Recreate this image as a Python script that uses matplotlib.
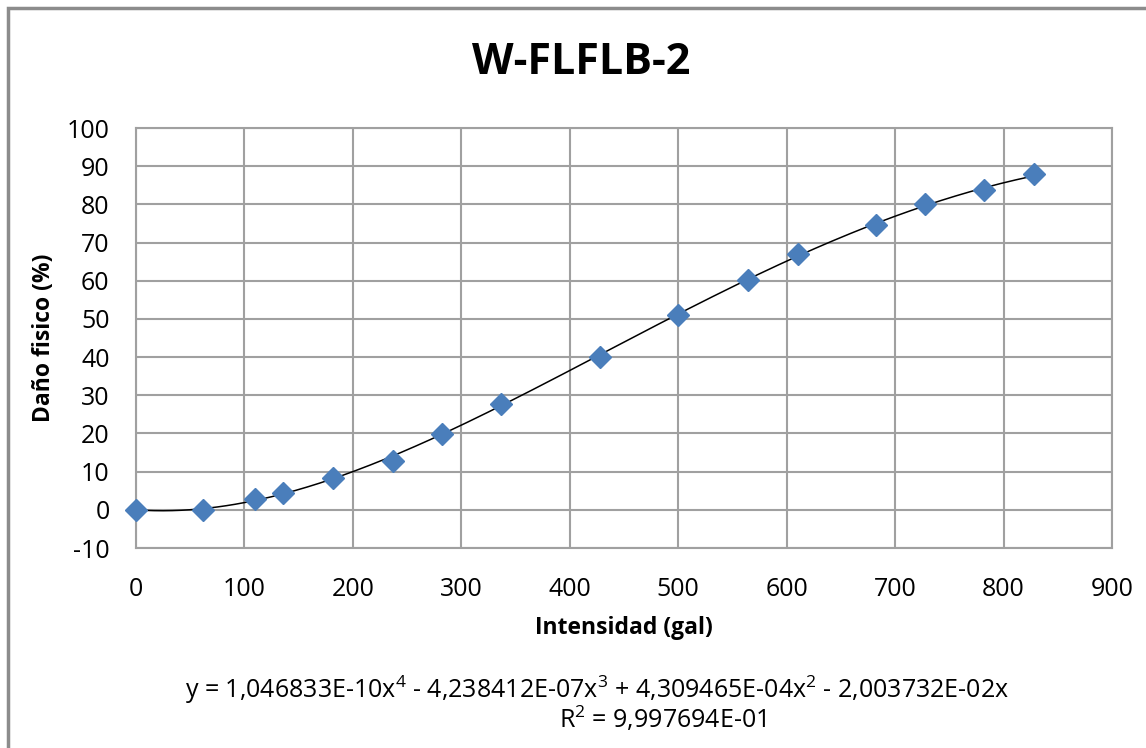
import numpy as np
import matplotlib
matplotlib.use('Agg')
from matplotlib import pyplot as plt
from matplotlib.patches import Rectangle

plt.rcParams['font.family'] = ['Open Sans', 'DejaVu Sans']
plt.rcParams['axes.unicode_minus'] = False
plt.rcParams['mathtext.fontset'] = 'custom'
plt.rcParams['mathtext.rm'] = 'Open Sans'
plt.rcParams['mathtext.it'] = 'Open Sans'

# data points
intensidad = [0, 62, 110, 136, 182, 237, 282, 337, 428, 500, 564, 610, 682, 728, 782, 828]
dano = [0, 0, 2.8, 4.3, 8.4, 12.8, 19.9, 27.6, 40, 51, 60.2, 67, 74.6, 80.1, 83.8, 88]

# trendline coefficients (4th order, no intercept) as printed on the chart
coefs = [1.046833e-10, -4.238412e-07, 4.309465e-04, -2.003732e-02, 0.0]

xticks = np.arange(0, 901, 100)
yticks = np.arange(-10, 101, 10)

fig = plt.figure(figsize=(11.46, 7.48), dpi=100)
ax = fig.add_axes([136/1146, 1 - 548/748, (1112 - 136)/1146, (548 - 128)/748])

# outer chart frame (only top/left visible in the reference)
fig.patches.append(Rectangle((8/1146, -0.1), 1.2, 1 - 8/748 + 0.1, transform=fig.transFigure,
                             fill=False, edgecolor='#8c8c8c', linewidth=2.5))

grid_c = '#a0a0a0'
ax.set_xlim(0, 900)
ax.set_ylim(-10, 100)
ax.set_xticks(xticks)
ax.set_yticks(yticks)
ax.grid(True, color=grid_c, linewidth=1.5)
ax.set_axisbelow(True)
for s in ax.spines.values():
    s.set_color(grid_c)
    s.set_linewidth(1.5)
ax.tick_params(length=0, labelsize=18, colors='#000000')
ax.tick_params(axis='y', pad=19)
ax.tick_params(axis='x', pad=21)

xs = np.linspace(0, max(intensidad), 300)
ax.plot(xs, np.polyval(coefs, xs), color='black', linewidth=1.1, zorder=2)
ax.plot(intensidad, dano, linestyle='none', marker='D', markersize=11.5,
        color='#4a7ebb', markeredgecolor='#4a7ebb', zorder=3, clip_on=False)

ax.set_xlabel('Intensidad (gal)', fontsize=16.5, fontweight='bold', labelpad=10)
ax.set_ylabel('Daño fisico (%)', fontsize=16.5, fontweight='bold', labelpad=8)

fig.text(0.507, 1 - 63/748, 'W-FLFLB-2', fontsize=31, fontweight='bold',
         ha='center', va='center')
fig.text(0.521, 1 - 690/748,
         'y = 1,046833E-10x$^{4}$ - 4,238412E-07x$^{3}$ + 4,309465E-04x$^{2}$ - 2,003732E-02x',
         fontsize=18, ha='center', va='center')
fig.text(0.578, 1 - 719/748, 'R$^{2}$ = 9,997694E-01', fontsize=18, ha='center', va='center')

fig.savefig('out.png', dpi=100)
